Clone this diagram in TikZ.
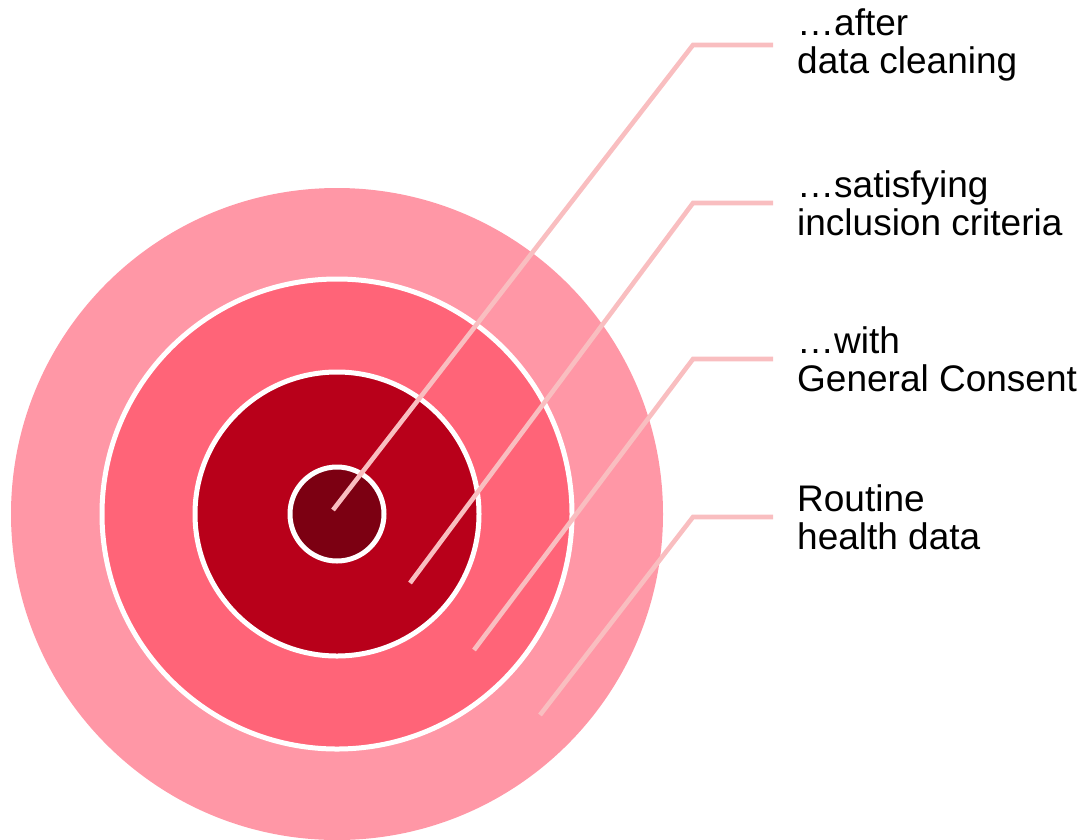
\documentclass[tikz,border=0pt]{standalone}
\usepackage{fontspec}
\setmainfont{Liberation Sans}
\usepackage{xcolor}
\usetikzlibrary{calc}
\definecolor{ringA}{HTML}{FF97A6}
\definecolor{ringB}{HTML}{FF6478}
\definecolor{ringC}{HTML}{B8001A}
\definecolor{ringD}{HTML}{7C0012}
\definecolor{leadercol}{HTML}{F9BEC0}
\tikzset{
  ring/.style={fill=#1, draw=white, line width=5pt},
  leader/.style={draw=leadercol, line width=4.6pt},
  tag/.style={anchor=west, align=left, inner sep=0pt,
    font=\fontsize{37}{38}\selectfont}
}
% leader from a point inside the rings to a label on the right
\newcommand{\callout}[4]{
\coordinate (#1dot) at (#2);
\coordinate (#1knee) at (693, #3);
\node[tag] (#1) at (797, #3) {#4};
\draw[leader] (#1dot) -- (#1knee) -- ($(#1.west) + (-24, 0)$);
}

\begin{document}
\begin{tikzpicture}[x=1pt, y=-1pt]
\useasboundingbox (0, 0) rectangle (1089, 839);
\begin{scope}
\clip (0, 0) rectangle (1089, 839);
\coordinate (center) at (337, 514);
\fill[ringA] (center) circle (326);
\draw[ring=ringB] (center) circle (235);
\draw[ring=ringC] (center) circle (142);
\draw[ring=ringD] (center) circle (47);
\end{scope}
\callout{clean}{333, 510}{45}{…after\\data cleaning}
\callout{incl}{410, 583}{203}{…satisfying\\inclusion criteria}
\callout{consent}{474, 650}{359}{…with\\General Consent}
\callout{routine}{540, 715}{517}{Routine\\health data}
\end{tikzpicture}
\end{document}
